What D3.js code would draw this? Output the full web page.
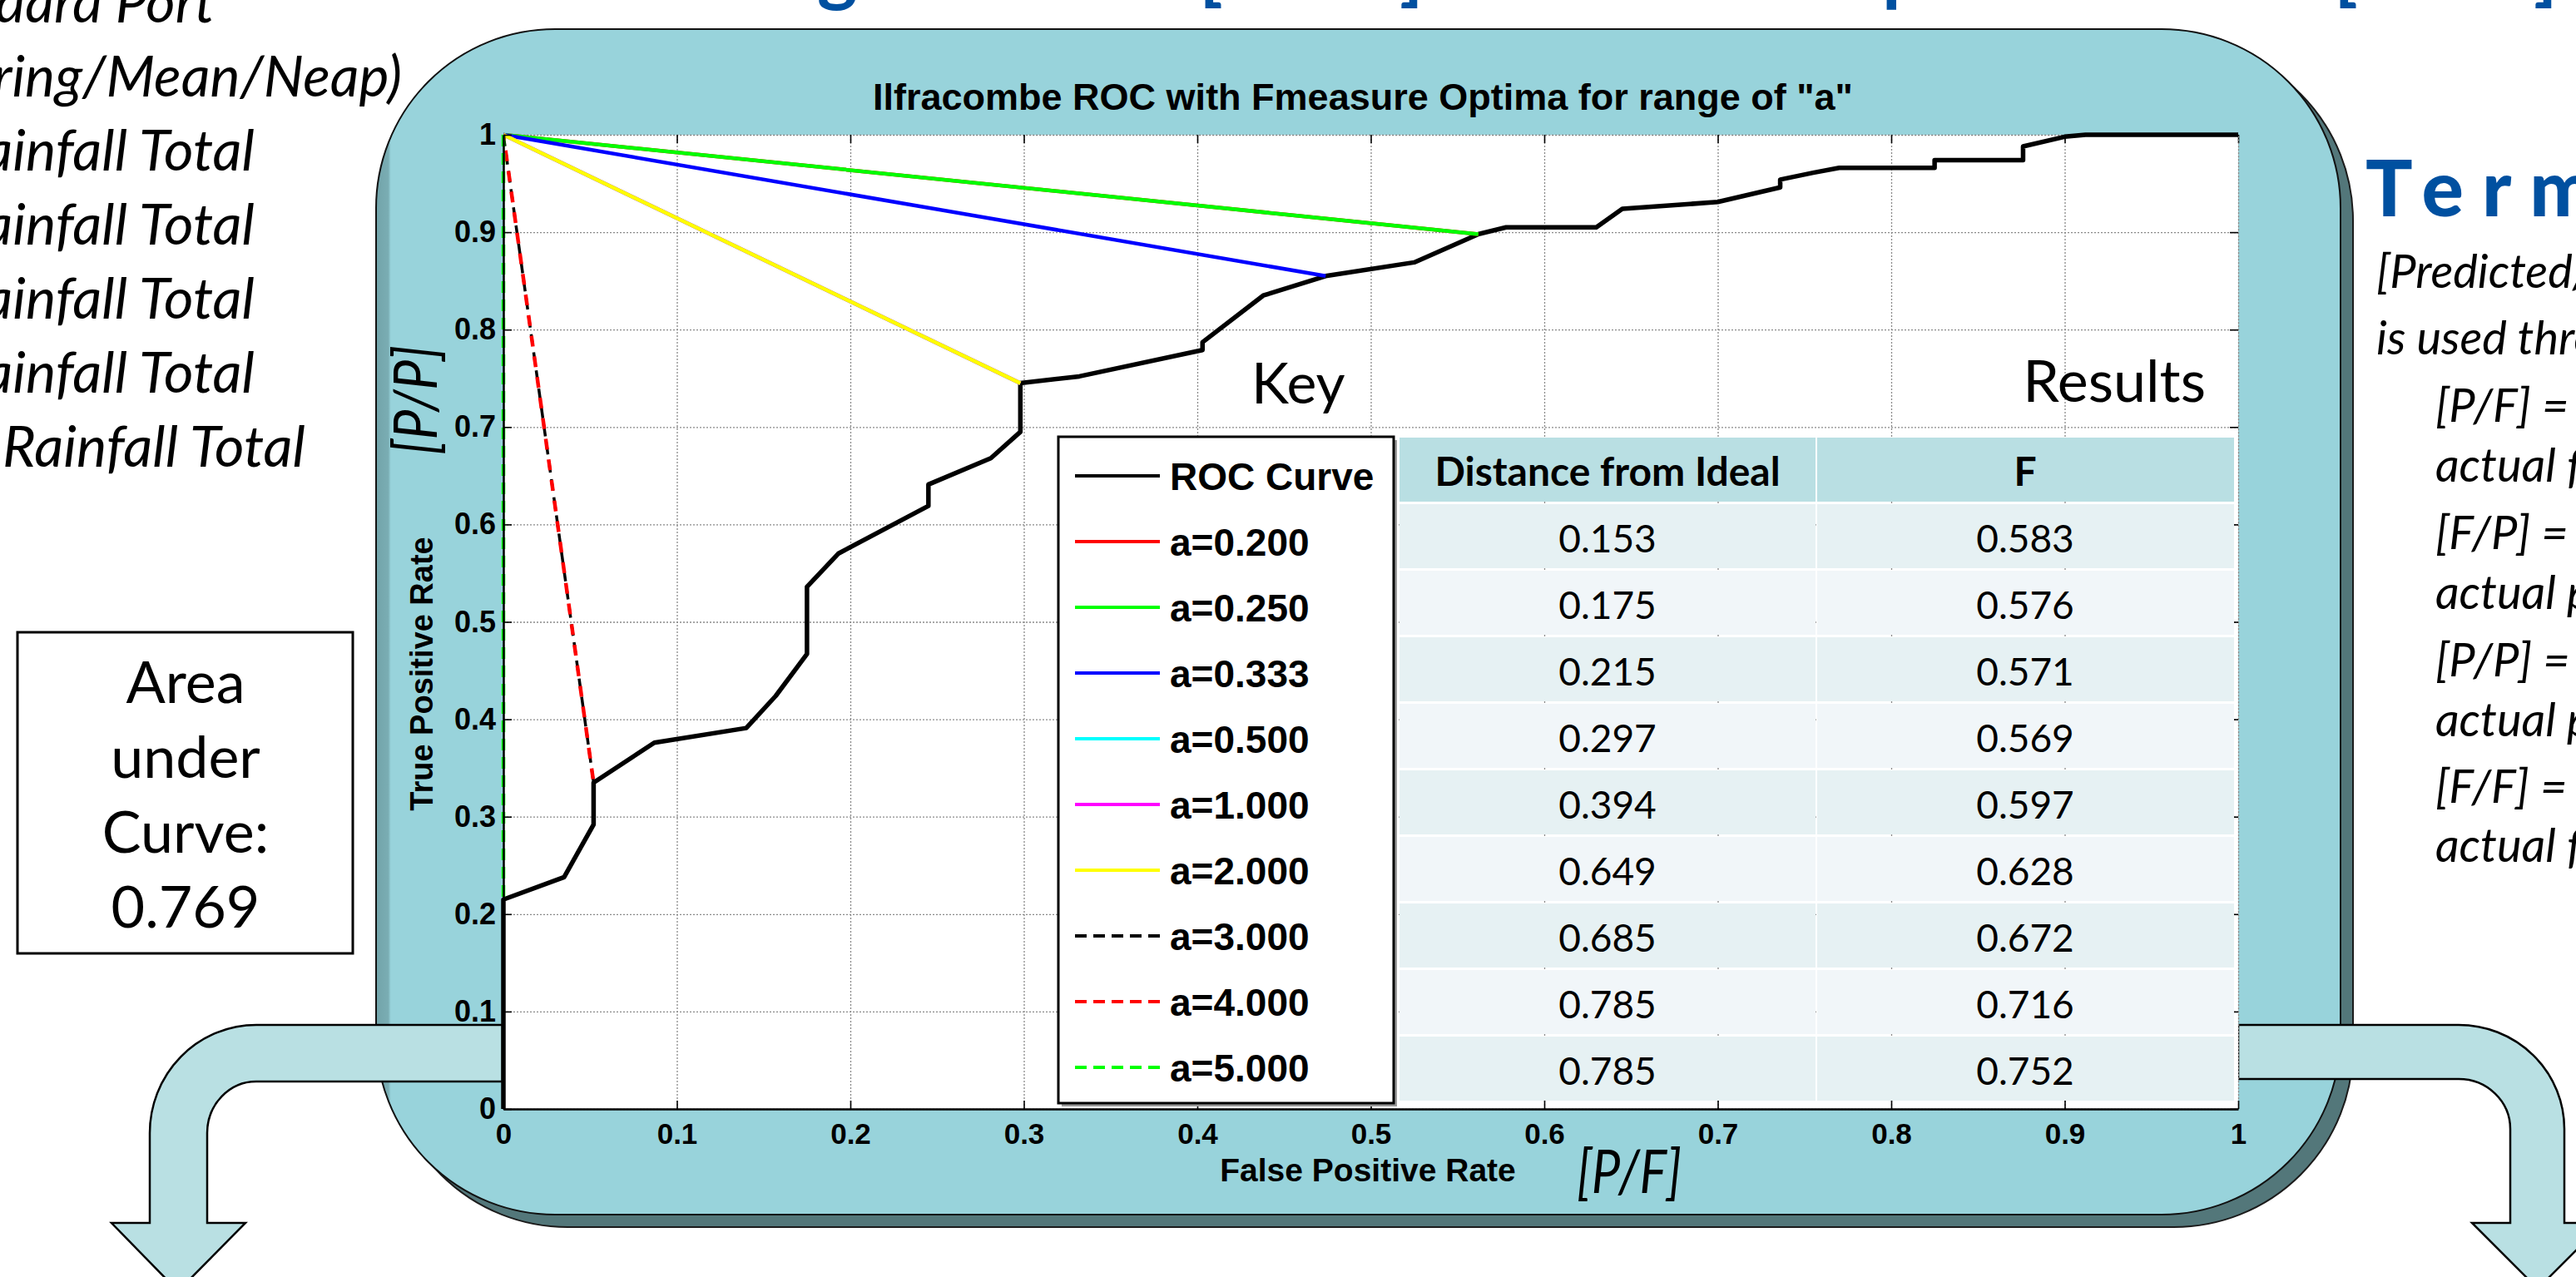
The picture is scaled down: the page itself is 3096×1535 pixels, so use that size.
<!DOCTYPE html>
<html>
<head>
<meta charset="utf-8">
<script src="https://cdn.jsdelivr.net/npm/d3@7"></script>
<style>
  body { margin: 0; background: #fff; overflow: hidden; }
  svg { display: block; }
</style>
</head>
<body>
<svg id="chart" width="3096" height="1535"></svg>
<script>
/* global d3 */

// ---- data ----
const rocFpr = [0, 0, 0.035, 0.052, 0.052, 0.087, 0.140, 0.157, 0.175, 0.175, 0.193, 0.245, 0.245,
    0.281, 0.298, 0.298, 0.332, 0.403, 0.403, 0.438, 0.474, 0.525, 0.562, 0.578, 0.630, 0.645,
    0.700, 0.736, 0.736, 0.755, 0.770, 0.825, 0.825, 0.876, 0.876, 0.900, 0.912, 1];
const rocTpr = [0, 0.215, 0.238, 0.292, 0.335, 0.376, 0.391, 0.424, 0.467, 0.536, 0.570, 0.619, 0.641,
    0.668, 0.695, 0.745, 0.752, 0.779, 0.787, 0.835, 0.855, 0.869, 0.898, 0.905, 0.905, 0.924,
    0.931, 0.946, 0.954, 0.961, 0.966, 0.966, 0.974, 0.974, 0.988, 0.998, 1, 1];

const keyLabels = ["a=0.200", "a=0.250", "a=0.333", "a=0.500", "a=1.000", "a=2.000", "a=3.000", "a=4.000", "a=5.000"];
const optimaFpr = [0.562, 0.562, 0.474, 0.298, 0.298, 0.298, 0.052, 0.052, 0];
const optimaTpr = [0.898, 0.898, 0.855, 0.745, 0.745, 0.745, 0.335, 0.335, 0.215];

const distanceIdeal = ["0.153", "0.175", "0.215", "0.297", "0.394", "0.649", "0.685", "0.785", "0.785"];
const fMeasure = ["0.583", "0.576", "0.571", "0.569", "0.597", "0.628", "0.672", "0.716", "0.752"];

const axisTicks = [0, 0.1, 0.2, 0.3, 0.4, 0.5, 0.6, 0.7, 0.8, 0.9, 1];
const areaLines = ["Area", "under", "Curve:", "0.769"];

const leftList = ["Standard Port", "(Spring/Mean/Neap)", "Rainfall Total", "Rainfall Total",
    "Rainfall Total", "Rainfall Total", "Rainfall Total"];
const termLines = ["[Predicted/Actual] notation", "is used throughout:",
    "[P/F] = predicted positive,", "actual false",
    "[F/P] = predicted false,", "actual positive",
    "[P/P] = predicted positive,", "actual positive",
    "[F/F] = predicted false,", "actual false"];

// styles for the key
const keyColors = ["#ff0000", "#00ff00", "#0000ff", "#00ffff", "#ff00ff", "#ffff00", "#000000", "#ff0000", "#00ff00"];
const keyDashed = [false, false, false, false, false, false, true, true, true];

const ARIAL = "'Liberation Sans', Arial, sans-serif";
const GILL = "Lato, 'Open Sans', sans-serif";
const BLUE = "#0050a0";

const svg = d3.select("#chart");
const defs = svg.append("defs");

const faceGrad = defs.append("linearGradient").attr("id", "faceGrad")
    .attr("x1", 0).attr("x2", 1).attr("y1", 0).attr("y2", 0);
faceGrad.append("stop").attr("offset", 0).attr("stop-color", "#72a4aa");
faceGrad.append("stop").attr("offset", 0.0062).attr("stop-color", "#7aadb3");
faceGrad.append("stop").attr("offset", 0.0075).attr("stop-color", "#98d3db");
faceGrad.append("stop").attr("offset", 1).attr("stop-color", "#98d3db");

// ---- slide text around the chart ----
const heading = svg.append("g")
    .attr("font-family", GILL).attr("font-weight", 700).attr("font-size", 92).attr("fill", BLUE);
[["g", 982], ["[", 1441], ["]", 1682], ["p", 2262], ["[", 2805], ["]", 3045]].forEach(([t, px]) => {
    heading.append("text").attr("x", px).attr("y", -4).text(t);
});

const left = svg.append("g")
    .attr("font-family", GILL).attr("font-style", "italic").attr("font-size", 68)
    .attr("text-anchor", "end");
const leftEnds = [258, 483, 306, 306, 306, 306, 367];
leftList.forEach((t, i) => {
    const txt = left.append("text").attr("x", leftEnds[i]).attr("y", 27 + i * 89).text(t);
    if (i >= 2) txt.attr("textLength", 364).attr("lengthAdjust", "spacingAndGlyphs");
});

svg.append("text").attr("x", 2843).attr("y", 260)
    .attr("font-family", GILL).attr("font-weight", 900).attr("font-size", 94)
    .attr("letter-spacing", 22).attr("fill", BLUE).text("Terminology");

const terms = svg.append("g")
    .attr("font-family", GILL).attr("font-style", "italic").attr("font-size", 56);
const termY = [346, 426, 507, 579, 660, 732, 813, 885, 965, 1036];
termLines.forEach((t, i) => {
    terms.append("text").attr("x", i < 2 ? 2856 : 2927).attr("y", termY[i]).text(t);
});

// ---- rounded panel ----
svg.append("rect").attr("x", 467).attr("y", 50).attr("width", 2361).attr("height", 1425)
    .attr("rx", 215).attr("fill", "#53777a").attr("stroke", "#1b1b1b").attr("stroke-width", 2);
svg.append("rect").attr("x", 452).attr("y", 35).attr("width", 2361).attr("height", 1425)
    .attr("rx", 215).attr("fill", "url(#faceGrad)").attr("stroke", "#111").attr("stroke-width", 2);

// ---- curved arrows ----
const arrowStyle = sel => sel.attr("fill", "#b9e0e3").attr("stroke", "#000").attr("stroke-width", 2.5);
svg.append("path").call(arrowStyle)
    .attr("d", "M604,1232 L308,1232 A128,130 0 0 0 180,1362 L180,1470 L134,1470 L214,1552 L295,1470 " +
        "L249,1470 L249,1362 A59,62 0 0 1 308,1300 L604,1300 Z");
svg.append("path").call(arrowStyle)
    .attr("d", "M2690,1232 L2955,1232 A127,125 0 0 1 3082,1357 L3082,1470 L3129,1470 L3050,1549 L2971,1470 " +
        "L3017,1470 L3017,1357 A62,60 0 0 0 2955,1297 L2690,1297 Z");

// ---- area under curve box ----
svg.append("rect").attr("x", 21).attr("y", 760).attr("width", 403).attr("height", 386)
    .attr("fill", "#fff").attr("stroke", "#000").attr("stroke-width", 3);
svg.append("g").attr("font-family", GILL).attr("font-size", 70).attr("text-anchor", "middle")
    .selectAll("text").data(areaLines).enter().append("text")
    .attr("x", 223).attr("y", (d, i) => 845 + i * 90).text(d => d);

// ---- ROC plot ----
const x = d3.scaleLinear().domain([0, 1]).range([605, 2690]);
const y = d3.scaleLinear().domain([0, 1]).range([1333, 162]);

const plot = svg.append("g");
plot.append("rect").attr("x", x(0)).attr("y", y(1))
    .attr("width", x(1) - x(0)).attr("height", y(0) - y(1)).attr("fill", "#fff");

const gridStyle = g => {
    g.select(".domain").remove();
    g.selectAll("line").attr("stroke", "#8a8a8a").attr("stroke-width", 1.3).attr("stroke-dasharray", "2,2");
};
plot.append("g").attr("transform", `translate(0,${y(0)})`)
    .call(d3.axisBottom(x).tickValues(axisTicks).tickSize(-(y(0) - y(1))).tickFormat(""))
    .call(gridStyle);
plot.append("g").attr("transform", `translate(${x(0)},0)`)
    .call(d3.axisLeft(y).tickValues(axisTicks).tickSize(-(x(1) - x(0))).tickFormat(""))
    .call(gridStyle);

const fmt = d => String(+d.toFixed(1));
const tickStyle = (g, size) => {
    g.selectAll(".tick line").attr("stroke", "#000").attr("stroke-width", 1.6);
    g.selectAll("text").attr("font-family", ARIAL).attr("font-weight", 700)
        .attr("font-size", size).attr("fill", "#000");
};
plot.append("g").attr("transform", `translate(0,${y(1)})`)
    .call(d3.axisTop(x).tickValues(axisTicks).tickSizeInner(-10).tickSizeOuter(0).tickFormat(""))
    .call(g => g.select(".domain").attr("stroke", "#8a8a8a").attr("stroke-dasharray", "2,2"))
    .call(g => tickStyle(g, 35));
plot.append("g").attr("transform", `translate(${x(1)},0)`)
    .call(d3.axisRight(y).tickValues(axisTicks).tickSizeInner(-10).tickSizeOuter(0).tickFormat(""))
    .call(g => g.select(".domain").attr("stroke", "#8a8a8a").attr("stroke-dasharray", "2,2"))
    .call(g => tickStyle(g, 35));

const line = d3.line().x(d => x(d[0])).y(d => y(d[1]));
plot.append("path").datum(rocFpr.map((f, i) => [f, rocTpr[i]]))
    .attr("d", line).attr("fill", "none").attr("stroke", "#000").attr("stroke-width", 5.5)
    .attr("stroke-linejoin", "round");

plot.selectAll(".optimum").data(keyLabels).enter().append("path")
    .attr("class", "optimum")
    .attr("d", (d, i) => line([[0, 1], [optimaFpr[i], optimaTpr[i]]]))
    .attr("fill", "none")
    .attr("stroke", (d, i) => keyColors[i])
    .attr("stroke-width", (d, i) => i === 6 ? 3.5 : 4.5)
    .attr("stroke-dasharray", (d, i) => i === 7 ? "13,12" : keyDashed[i] ? "14,8" : null)
    .attr("stroke-dashoffset", (d, i) => i === 7 ? 6 : 0);

plot.append("g").attr("transform", `translate(0,${y(0)})`)
    .call(d3.axisBottom(x).tickValues(axisTicks).tickSizeInner(-10).tickSizeOuter(0).tickPadding(17).tickFormat(fmt))
    .call(g => g.select(".domain").attr("stroke", "#000").attr("stroke-width", 2.5))
    .call(g => tickStyle(g, 35));
plot.append("g").attr("transform", `translate(${x(0)},0)`)
    .call(d3.axisLeft(y).tickValues(axisTicks).tickSizeInner(-10).tickSizeOuter(0).tickPadding(9).tickFormat(fmt))
    .call(g => g.select(".domain").attr("stroke", "#000").attr("stroke-width", 2.5))
    .call(g => tickStyle(g, 36));

// titles
svg.append("text").attr("x", 1638).attr("y", 132).attr("text-anchor", "middle")
    .attr("font-family", ARIAL).attr("font-weight", 700).attr("font-size", 45)
    .text("Ilfracombe ROC with Fmeasure Optima for range of \"a\"");
svg.append("text").attr("x", 1644).attr("y", 1420).attr("text-anchor", "middle")
    .attr("font-family", ARIAL).attr("font-weight", 700).attr("font-size", 39)
    .text("False Positive Rate");
svg.append("text").attr("transform", "translate(520,810) rotate(-90)").attr("text-anchor", "middle")
    .attr("font-family", ARIAL).attr("font-weight", 700).attr("font-size", 38)
    .text("True Positive Rate");
svg.append("text").attr("transform", "translate(525,481) rotate(-90)").attr("text-anchor", "middle")
    .attr("font-family", GILL).attr("font-style", "italic").attr("font-size", 72)
    .attr("textLength", 132).attr("lengthAdjust", "spacingAndGlyphs").text("[P/P]");
svg.append("text").attr("x", 1958).attr("y", 1434).attr("text-anchor", "middle")
    .attr("font-family", GILL).attr("font-style", "italic").attr("font-size", 72)
    .attr("textLength", 126).attr("lengthAdjust", "spacingAndGlyphs").text("[P/F]");

// ---- key ----
svg.append("text").attr("x", 1504).attr("y", 485)
    .attr("font-family", GILL).attr("font-size", 68).text("Key");
svg.append("text").attr("x", 2651).attr("y", 483).attr("text-anchor", "end")
    .attr("font-family", GILL).attr("font-size", 70).text("Results");

const key = svg.append("g");
key.append("rect").attr("x", 1276).attr("y", 529).attr("width", 403).attr("height", 801).attr("fill", "#9a9a9a");
key.append("rect").attr("x", 1272).attr("y", 525).attr("width", 403).attr("height", 801)
    .attr("fill", "#fff").attr("stroke", "#000").attr("stroke-width", 3);

const keyRows = ["ROC Curve"].concat(keyLabels);
const keyItem = key.selectAll(".item").data(keyRows).enter().append("g")
    .attr("class", "item").attr("transform", (d, i) => `translate(0,${572 + i * 79})`);
keyItem.append("line").attr("x1", 1292).attr("x2", 1394)
    .attr("stroke", (d, i) => i === 0 ? "#000" : keyColors[i - 1])
    .attr("stroke-width", 4)
    .attr("stroke-dasharray", (d, i) => i > 0 && keyDashed[i - 1] ? "14,8" : null);
keyItem.append("text").attr("x", 1406).attr("y", 17)
    .attr("font-family", ARIAL).attr("font-weight", 700).attr("font-size", 46).text(d => d);

// ---- results table ----
const table = svg.append("g");
const colX = [1682, 2184];
const colW = [500, 501];
colX.forEach((cx, c) => {
    table.append("rect").attr("x", cx).attr("y", 526).attr("width", colW[c]).attr("height", 77).attr("fill", "#b9dfe3");
});
table.append("text").attr("x", 1932).attr("y", 584).attr("text-anchor", "middle")
    .attr("font-family", GILL).attr("font-weight", 700).attr("font-size", 48).text("Distance from Ideal");
table.append("text").attr("x", 2434).attr("y", 584).attr("text-anchor", "middle")
    .attr("font-family", GILL).attr("font-weight", 700).attr("font-size", 48).text("F");

const rows = table.selectAll(".row").data(distanceIdeal).enter().append("g")
    .attr("class", "row").attr("transform", (d, i) => `translate(0,${606 + i * 80})`);
colX.forEach((cx, c) => {
    rows.append("rect").attr("x", cx).attr("y", 0).attr("width", colW[c]).attr("height", 77)
        .attr("fill", (d, i) => i % 2 === 0 ? "#e6f1f3" : "#f1f6f9");
});
rows.append("text").attr("x", 1932).attr("y", 58).attr("text-anchor", "middle")
    .attr("font-family", GILL).attr("font-size", 46).text(d => d);
rows.append("text").attr("x", 2434).attr("y", 58).attr("text-anchor", "middle")
    .attr("font-family", GILL).attr("font-size", 46).text((d, i) => fMeasure[i]);
</script>
</body>
</html>
